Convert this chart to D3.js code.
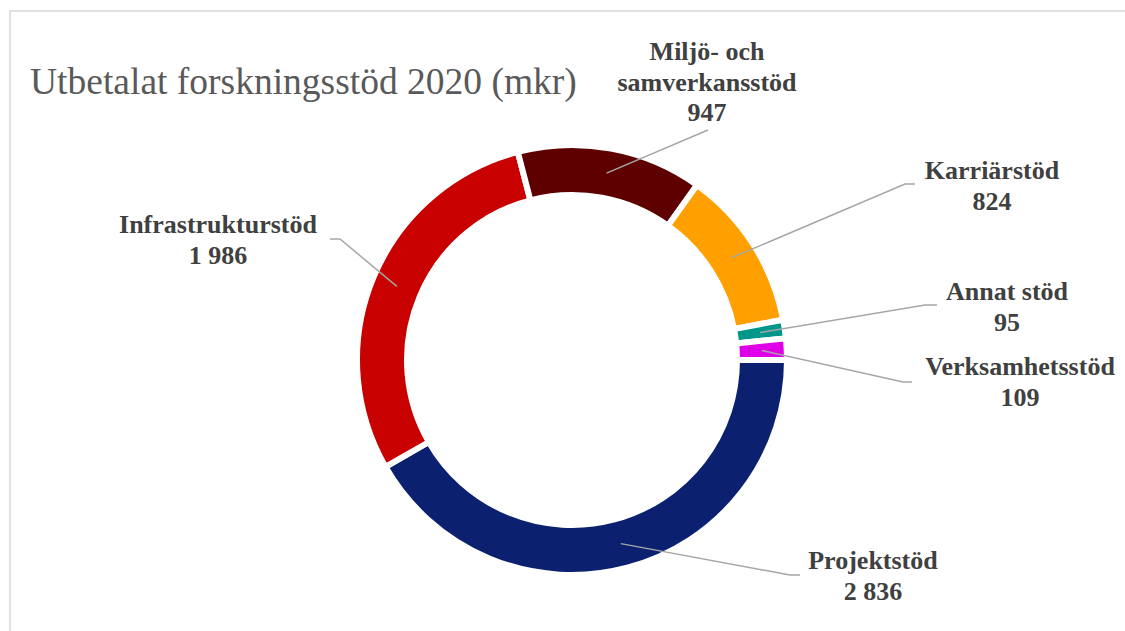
<!DOCTYPE html>
<html>
<head>
<meta charset="utf-8">
<script src="https://cdn.jsdelivr.net/npm/d3@7"></script>
<style>
  html, body { margin: 0; padding: 0; background: #fff; }
  svg { display: block; }
</style>
</head>
<body>
<svg id="chart"></svg>
<script>
// data (mkr)
const categories = ['Projektstöd', 'Infrastrukturstöd', 'Miljö- och samverkansstöd', 'Karriärstöd', 'Annat stöd', 'Verksamhetsstöd'];
const values = [2836, 1986, 947, 824, 95, 109];
const valueLabels = ['2 836', '1 986', '947', '824', '95', '109'];
const labelLines = [['Projektstöd'], ['Infrastrukturstöd'], ['Miljö- och', 'samverkansstöd'], ['Karriärstöd'], ['Annat stöd'], ['Verksamhetsstöd']];
const colors = ['#0c2070', '#c80000', '#5e0000', '#ff9f00', '#00968a', '#e000e8'];

const width = 1125;
const height = 631;
const cx = 572, cy = 360;
const outerR = 215, innerR = 165;

const svg = d3.select('#chart')
  .attr('width', width)
  .attr('height', height);

// chart frame
svg.append('rect')
  .attr('x', 10).attr('y', 11)
  .attr('width', width).attr('height', height)
  .attr('fill', 'none')
  .attr('stroke', '#d9d9d9')
  .attr('stroke-width', 1.5);

svg.append('text')
  .attr('x', 30).attr('y', 94)
  .style('font-family', '"Liberation Serif", "Times New Roman", serif')
  .style('font-size', '37.5px')
  .style('fill', '#595959')
  .text('Utbetalat forskningsstöd 2020 (mkr)');

const pie = d3.pie()
  .sort(null)
  .startAngle(Math.PI / 2)
  .endAngle(Math.PI / 2 + 2 * Math.PI)
  .value(d => d);

const arcs = pie(values);

const arc = d3.arc()
  .innerRadius(innerR)
  .outerRadius(outerR);

const chart = svg.append('g')
  .attr('transform', `translate(${cx},${cy})`);

chart.selectAll('path.slice')
  .data(arcs)
  .enter()
  .append('path')
  .attr('class', 'slice')
  .attr('d', arc)
  .attr('fill', (d, i) => colors[i])
  .attr('stroke', '#fff')
  .attr('stroke-width', 6)
  .attr('stroke-linejoin', 'miter');

// label placement (layout only): elbow point, end of leader, text centre, first baseline
const labelAt = [
  { elbow: [790, 575], end: [800, 575], tx: 873, ty: 569 },
  { elbow: [340, 239], end: [330, 239], tx: 218, ty: 233 },
  { elbow: null, end: [708, 130], tx: 707, ty: 60 },
  { elbow: [905, 184], end: [915, 184], tx: 992, ty: 179 },
  { elbow: [925, 305], end: [937, 305], tx: 1007, ty: 300 },
  { elbow: [903, 382], end: [912, 382], tx: 1020, ty: 375 }
];

const leaderR = 190;

arcs.forEach((d, i) => {
  const a = (d.startAngle + d.endAngle) / 2;
  const start = [cx + leaderR * Math.sin(a), cy - leaderR * Math.cos(a)];
  const L = labelAt[i];
  const pts = [start];
  if (L.elbow) pts.push(L.elbow);
  pts.push(L.end);

  svg.append('path')
    .attr('d', d3.line()(pts))
    .attr('fill', 'none')
    .attr('stroke', '#a6a6a6')
    .attr('stroke-width', 1.5);

  const lines = labelLines[i].concat([valueLabels[i]]);
  const t = svg.append('text')
    .attr('text-anchor', 'middle')
    .style('font-family', '"Liberation Serif", "Times New Roman", serif')
    .style('font-weight', 'bold')
    .style('font-size', '26px')
    .style('fill', '#404040');
  lines.forEach((s, k) => {
    t.append('tspan')
      .attr('x', L.tx)
      .attr('y', L.ty + k * 30.5)
      .text(s);
  });
});
</script>
</body>
</html>
